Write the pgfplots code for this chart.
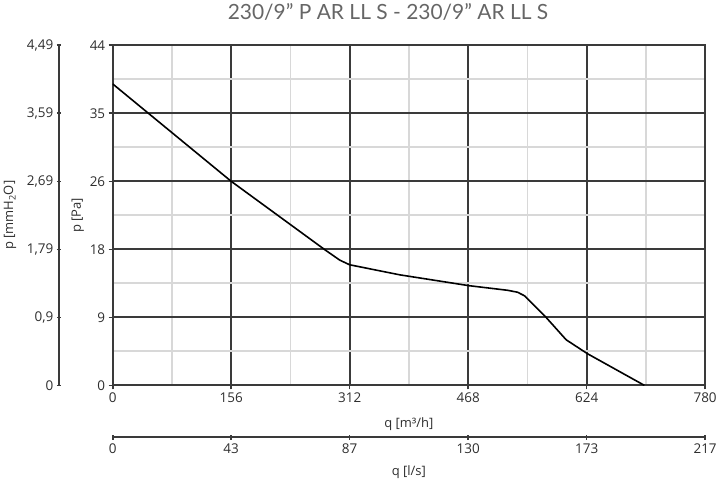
\documentclass[border=0pt]{standalone}
\usepackage{pgfplots}
\pgfplotsset{compat=1.18}
\usepackage{fontspec}
\setmainfont{Open Sans}
\newfontfamily\titlefont{Lato}
\definecolor{axisdark}{HTML}{3A3A3A}
\definecolor{gridminor}{HTML}{D8D8D8}
\definecolor{txt}{HTML}{2E2E2E}
\definecolor{titlegray}{HTML}{666666}

\pgfplotsset{
  common/.style={
    scale only axis,
    anchor=south west,
    /pgf/number format/assume math mode=true,
    axis line style={axisdark, line width=1.8pt},
    major tick style={axisdark, line width=1.6pt},
    major tick length=4pt,
    tick align=outside,
    ticklabel style={font=\fontsize{13.5}{15}\selectfont, text=txt},
    label style={font=\fontsize{13}{15}\selectfont, text=txt},
  }
}

\pgfplotstableread{
q p
0 39.0
47 35.2
156 26.4
280 17.5
299 16.2
312 15.6
378 14.3
469 12.9
520 12.3
533 12.05
542 11.6
571 8.75
597 5.9
625 4.1
700 0
}\curve

\begin{document}
\begin{tikzpicture}[x=1pt,y=1pt]
\path (0,0) rectangle (720,479);

% main chart
\begin{axis}[common,
  at={(113pt,96pt)},
  width=594pt, height=341pt,
  xmin=0, xmax=780, ymin=0, ymax=44,
  xtick={0,156,312,468,624,780},
  ytick={0,8.8,17.6,26.4,35.2,44},
  yticklabels={0,9,18,26,35,44},
  minor x tick num=1, minor y tick num=1,
  minor tick length=0pt,
  xtick pos=bottom, ytick pos=left,
  grid=both,
  major grid style={axisdark, line width=1.8pt},
  minor grid style={gridminor, line width=1.8pt},
  xticklabel style={yshift=0pt},
  xlabel={q [m³/h]},
  xlabel style={at={(axis description cs:0.5,0)}, anchor=center, yshift=-39pt},
  ylabel={p [Pa]},
  ylabel style={at={(axis description cs:-0.0589,0.5)}, anchor=center},
]
\addplot[black, line width=1.6pt] table[x=q, y=p] {\curve};
\end{axis}

% left secondary scale in mmH2O
\begin{axis}[common,
  at={(59pt,96pt)},
  width=5pt, height=341pt,
  xmin=0, xmax=1, ymin=0, ymax=44,
  axis x line=none, axis y line=left,
  y axis line style={-},
  ytick={0,8.8,17.6,26.4,35.2,44},
  yticklabels={0,{0,9},{1,79},{2,69},{3,59},{4,49}},
  ylabel={p [mmH\textsubscript{2}O]},
  ylabel style={at={(axis description cs:-9.8,0.5)}, anchor=center},
]
\end{axis}

% bottom secondary scale in l/s
\begin{axis}[common,
  at={(113pt,44pt)},
  width=594pt, height=5pt,
  xmin=0, xmax=780, ymin=0, ymax=1,
  axis y line=none, axis x line=bottom,
  x axis line style={-},
  tick align=center,
  major tick length=5pt,
  xtick={0,156,312,468,624,780},
  xticklabels={0,43,87,130,173,217},
  xticklabel style={yshift=0pt},
  xlabel={q [l/s]},
  xlabel style={at={(axis description cs:0.5,0)}, anchor=center, yshift=-35pt},
]
\end{axis}

\node[anchor=base, font=\titlefont\fontsize{21}{24}\selectfont, text=titlegray]
  at (389,463) {230/9” P AR LL S - 230/9” AR LL S};
\end{tikzpicture}
\end{document}
